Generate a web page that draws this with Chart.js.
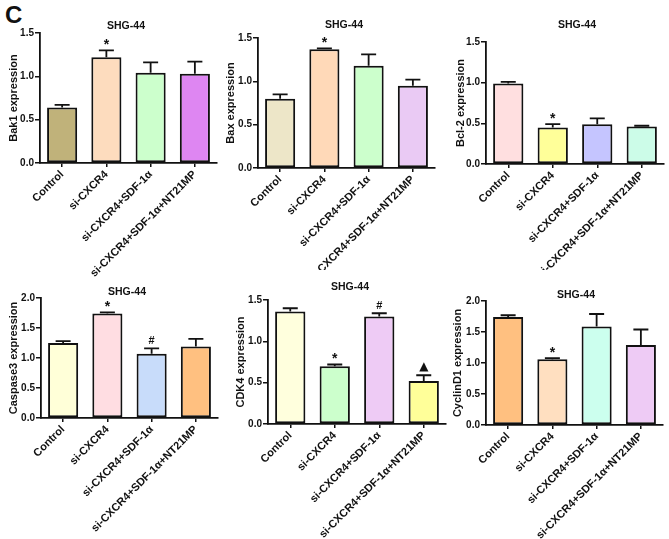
<!DOCTYPE html>
<html>
<head>
<meta charset="utf-8">
<script src="https://cdn.jsdelivr.net/npm/chart.js@4"></script>
<style>
  html, body { margin: 0; padding: 0; background: #fff; }
  #wrap { position: relative; width: 669px; height: 539px; overflow: hidden; }
  canvas { position: absolute; left: 0; }
  #tag { position: absolute; left: 5px; top: 1px; font: bold 24px "Liberation Sans", Arial, sans-serif; color: #111; }
</style>
</head>
<body>
<div id="wrap">
  <div id="tag">C</div>
  <canvas id="c1" width="669" height="282" style="top:0"></canvas>
  <canvas id="c2" width="669" height="270" style="top:0"></canvas>
  <canvas id="c3" width="669" height="270" style="top:0"></canvas>
  <canvas id="c4" width="669" height="269" style="top:270px"></canvas>
  <canvas id="c5" width="669" height="269" style="top:270px"></canvas>
  <canvas id="c6" width="669" height="269" style="top:270px"></canvas>
</div>
<script>
// groups on the x axis (same for every panel)
const groups = ["Control", "si-CXCR4", "si-CXCR4+SDF-1α", "si-CXCR4+SDF-1α+NT21MP"];

// mean and error (upper bar only)
const bak1Mean = [0.64, 1.22, 1.04, 1.03];
const bak1Err = [0.03, 0.08, 0.12, 0.14];
const bak1Marks = ["", "*", "", ""];

const baxMean = [0.80, 1.37, 1.18, 0.95];
const baxErr = [0.05, 0.01, 0.13, 0.07];
const baxMarks = ["", "*", "", ""];

const bcl2Mean = [0.99, 0.45, 0.49, 0.46];
const bcl2Err = [0.02, 0.04, 0.07, 0.01];
const bcl2Marks = ["", "*", "", ""];

const casp3Mean = [1.25, 1.74, 1.07, 1.19];
const casp3Err = [0.03, 0.02, 0.09, 0.13];
const casp3Marks = ["", "*", "#", ""];

const cdk4Mean = [1.36, 0.70, 1.30, 0.52];
const cdk4Err = [0.04, 0.02, 0.04, 0.07];
const cdk4Marks = ["", "*", "#", "▲"];

const ccnd1Mean = [1.74, 1.06, 1.59, 1.29];
const ccnd1Err = [0.03, 0.02, 0.20, 0.25];
const ccnd1Marks = ["", "*", "", ""];

const yTicksMax15 = 1.5;
const yTicksMax20 = 2.0;

const FONT = "'Liberation Sans', Arial, sans-serif";
Chart.defaults.font.family = FONT;
Chart.defaults.color = "#111";

// error bars + significance marks + panel title
const extrasPlugin = {
    id: "extras",
    afterDatasetsDraw(chart) {
        const cfg = chart.options.plugins.extras;
        const ctx = chart.ctx;
        const yScale = chart.scales.y;
        const meta = chart.getDatasetMeta(0);
        ctx.save();
        ctx.strokeStyle = "#111";
        ctx.fillStyle = "#111";
        ctx.lineWidth = 1.8;
        meta.data.forEach((bar, i) => {
            const top = yScale.getPixelForValue(cfg.mean[i] + cfg.err[i]);
            ctx.beginPath();
            ctx.moveTo(bar.x, bar.y);
            ctx.lineTo(bar.x, top);
            ctx.moveTo(bar.x - 7.5, top);
            ctx.lineTo(bar.x + 7.5, top);
            ctx.stroke();
            const mark = cfg.marks[i];
            if (mark) {
                ctx.textAlign = "center";
                ctx.textBaseline = "alphabetic";
                if (mark === "*") {
                    ctx.font = "bold 14px " + FONT;
                    ctx.fillText(mark, bar.x, top - 1);
                } else if (mark === "#") {
                    ctx.font = "bold 11px " + FONT;
                    ctx.fillText(mark, bar.x, top - 4);
                } else {
                    ctx.font = "12px 'DejaVu Sans', sans-serif";
                    ctx.fillText(mark, bar.x, top - 5);
                }
            }
        });
        // title
        ctx.font = "bold 10.5px " + FONT;
        ctx.textAlign = "center";
        ctx.textBaseline = "middle";
        ctx.fillText(cfg.title, cfg.titleX, cfg.titleY);
        ctx.restore();
    }
};

function makePanel(id, p) {
    const rowH = p.rowH;
    const padLeft = p.yTitleX - 6.5;
    const yWidth = p.L - padLeft;
    // x scale box reaches down to the canvas bottom so rotated labels are not clipped
    const xHeight = rowH - (p.B - p.rowTop);
    return new Chart(document.getElementById(id), {
        type: "bar",
        data: {
            labels: groups,
            datasets: [{
                data: p.mean,
                backgroundColor: p.colors,
                borderColor: "#111",
                borderWidth: 2,
                borderSkipped: false,
                barPercentage: 0.68,
                categoryPercentage: 1.0
            }]
        },
        options: {
            responsive: false,
            animation: false,
            events: [],
            layout: {
                padding: {
                    left: padLeft,
                    right: 669 - p.R,
                    top: p.T - p.rowTop,
                    bottom: 0
                }
            },
            plugins: {
                legend: { display: false },
                tooltip: { enabled: false },
                extras: {
                    mean: p.mean,
                    err: p.err,
                    marks: p.marks,
                    title: "SHG-44",
                    titleX: p.titleX,
                    titleY: p.titleY - p.rowTop
                }
            },
            scales: {
                x: {
                    offset: true,
                    grid: {
                        offset: false,
                        drawOnChartArea: false,
                        drawTicks: true,
                        tickLength: 4,
                        color: "#111",
                        lineWidth: 1.5
                    },
                    border: { display: true, color: "#111", width: 1.8 },
                    ticks: {
                        autoSkip: false,
                        maxRotation: 45,
                        minRotation: 45,
                        padding: 1,
                        color: "#111",
                        font: { size: 11, weight: "bold" }
                    },
                    afterFit(scale) { scale.height = xHeight; }
                },
                y: {
                    min: 0,
                    max: p.yMax,
                    ticks: {
                        stepSize: 0.5,
                        padding: 1,
                        color: "#111",
                        font: { size: 10, weight: "bold" },
                        callback: v => Number(v).toFixed(1)
                    },
                    grid: {
                        drawOnChartArea: false,
                        drawTicks: true,
                        tickLength: 5,
                        color: "#111",
                        lineWidth: 1.5
                    },
                    border: { display: true, color: "#111", width: 1.8 },
                    title: {
                        display: true,
                        text: p.yTitle,
                        padding: 0,
                        color: "#111",
                        font: { size: 11, weight: "bold" }
                    },
                    afterFit(scale) { scale.width = yWidth; }
                }
            }
        },
        plugins: [extrasPlugin]
    });
}

makePanel("c1", {
    mean: bak1Mean, err: bak1Err, marks: bak1Marks, yMax: yTicksMax15,
    yTitle: "Bak1 expression",
    colors: ["#c0b27a", "#fddcbe", "#ccffcc", "#de86f2"],
    rowTop: 0, rowH: 282, L: 40, T: 33, R: 217, B: 163, yTitleX: 14, titleX: 126, titleY: 26
});
makePanel("c2", {
    mean: baxMean, err: baxErr, marks: baxMarks, yMax: yTicksMax15,
    yTitle: "Bax expression",
    colors: ["#ede6c8", "#ffd9b8", "#ccffcc", "#eacaf4"],
    rowTop: 0, rowH: 270, L: 258, T: 38, R: 435, B: 168, yTitleX: 231, titleX: 344, titleY: 25
});
makePanel("c3", {
    mean: bcl2Mean, err: bcl2Err, marks: bcl2Marks, yMax: yTicksMax15,
    yTitle: "Bcl-2 expression",
    colors: ["#ffdfe0", "#ffff99", "#c5c5ff", "#ccfce8"],
    rowTop: 0, rowH: 270, L: 486, T: 42, R: 664, B: 164, yTitleX: 461, titleX: 577, titleY: 25
});
makePanel("c4", {
    mean: casp3Mean, err: casp3Err, marks: casp3Marks, yMax: yTicksMax20,
    yTitle: "Caspase3 expression",
    colors: ["#ffffd8", "#ffdde2", "#c8dcfa", "#ffc080"],
    rowTop: 270, rowH: 269, L: 41, T: 298, R: 218, B: 418, yTitleX: 14, titleX: 127, titleY: 292
});
makePanel("c5", {
    mean: cdk4Mean, err: cdk4Err, marks: cdk4Marks, yMax: yTicksMax15,
    yTitle: "CDK4 expression",
    colors: ["#ffffdd", "#ccffcc", "#eecbf5", "#ffff99"],
    rowTop: 270, rowH: 269, L: 268, T: 300, R: 446, B: 424, yTitleX: 241, titleX: 350, titleY: 287
});
makePanel("c6", {
    mean: ccnd1Mean, err: ccnd1Err, marks: ccnd1Marks, yMax: yTicksMax20,
    yTitle: "CyclinD1 expression",
    colors: ["#ffc080", "#ffdfc0", "#ccffee", "#eecbf5"],
    rowTop: 270, rowH: 269, L: 486, T: 301, R: 663, B: 425, yTitleX: 458, titleX: 576, titleY: 295
});
</script>
</body>
</html>
